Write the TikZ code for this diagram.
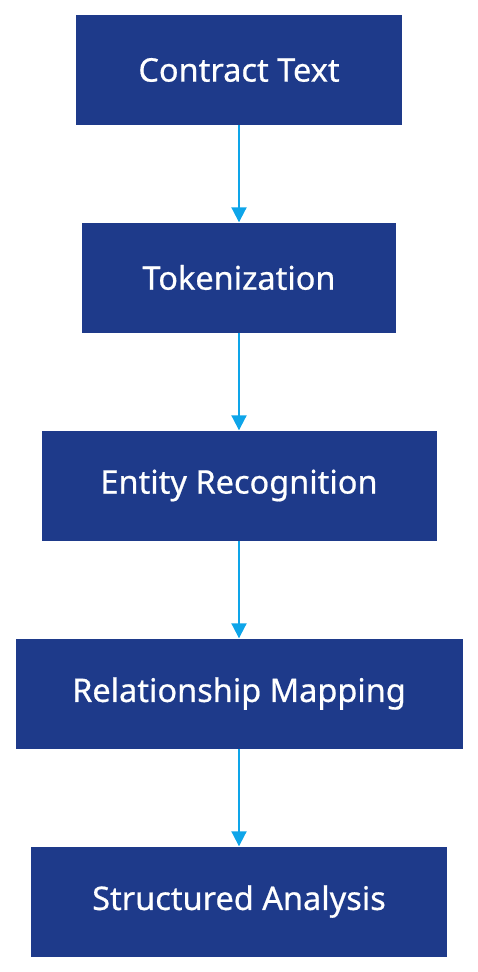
\documentclass[tikz,border=0pt]{standalone}
\usepackage{fontspec}
\setmainfont{Noto Sans}[FakeBold=0.6]
\usetikzlibrary{calc,positioning}
\usetikzlibrary{arrows.meta}
\definecolor{boxblue}{HTML}{1E3A8A}
\definecolor{linkblue}{HTML}{0EA5E9}
\tikzset{>={Triangle[width=15pt,length=15pt]}}

\begin{document}
\begin{tikzpicture}[x=1pt,y=-1pt]
          \tikzstyle{stagebox} = [fill=boxblue, draw=none, minimum height=110pt, inner sep=0pt, text=white, font=\fontsize{32.5}{38}\selectfont\bfseries, align=center]
          \tikzstyle{link} = [->, draw=linkblue, line width=2pt]

          \useasboundingbox (0,0) rectangle (478,972);

          \node[stagebox, minimum width=326pt] (text) at (239, 70) {Contract Text};
          \node[stagebox, minimum width=314pt] (token) at (239, 277.5) {Tokenization};
          \node[stagebox, minimum width=395pt] (entity) at (239, 485.5) {Entity Recognition};
          \node[stagebox, minimum width=447pt] (relation) at (239, 693.5) {Relationship Mapping};
          \node[stagebox, minimum width=416pt] (analysis) at (239, 901.5) {Structured Analysis};

          \draw[link] (text)--(token);
          \draw[link] (token)--(entity);
          \draw[link] (entity)--(relation);
          \draw[link] (relation)--(analysis);
        \end{tikzpicture}
\end{document}
